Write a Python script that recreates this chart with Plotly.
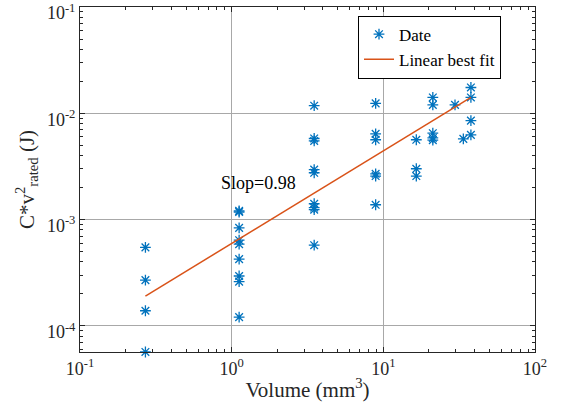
"""Log-log scatter of stored energy versus volume with a linear best fit."""

import plotly.graph_objects as go

# Measured points (Volume in mm^3, C*v^2_rated in J)
volume = [
    0.27, 0.27, 0.27, 0.27,
    1.12, 1.12, 1.12, 1.12, 1.12, 1.12, 1.12, 1.12, 1.12,
    3.5, 3.5, 3.5, 3.5, 3.5, 3.5, 3.5, 3.5, 3.5,
    8.9, 8.9, 8.9, 8.9, 8.9, 8.9, 8.9,
    16.5, 16.5, 16.5,
    21.2, 21.2, 21.2, 21.2, 21.2, 21.2,
    29.7, 33.7,
    37.8, 37.8, 37.8, 37.8,
]
energy = [
    5.48e-4, 2.70e-4, 1.39e-4, 5.69e-5,
    1.21e-3, 1.18e-3, 8.36e-4, 6.41e-4, 5.88e-4, 4.25e-4, 2.95e-4, 2.61e-4, 1.21e-4,
    1.18e-2, 5.8e-3, 5.5e-3, 2.96e-3, 2.76e-3, 1.41e-3, 1.24e-3, 1.30e-3, 5.75e-4,
    2.51e-2, 1.24e-2, 6.41e-3, 5.64e-3, 2.70e-3, 2.57e-3, 1.38e-3,
    5.64e-3, 3.01e-3, 2.57e-3,
    2.51e-2, 1.41e-2, 1.20e-2, 6.50e-3, 5.87e-3, 5.60e-3,
    1.20e-2, 5.75e-3,
    1.75e-2, 1.41e-2, 8.54e-3, 6.27e-3,
]

# Best-fit line end points
fit_x = [0.27, 37.8]
fit_y = [1.91e-4, 1.41e-2]

x_ticks = [0.1, 1, 10, 100]
x_labels = ["10<sup>-1</sup>", "10<sup>0</sup>", "10<sup>1</sup>", "10<sup>2</sup>"]
y_ticks = [1e-4, 1e-3, 1e-2, 1e-1]
y_labels = ["10<sup>-4</sup>", "10<sup>-3</sup>", "10<sup>-2</sup>", "10<sup>-1</sup>"]

x_minor = [k * 10.0 ** e for e in range(-1, 2) for k in range(2, 10)]
y_minor = [k * 10.0 ** e for e in range(-5, -1) for k in range(2, 10)]

FONT = "Liberation Serif, Times New Roman, serif"

fig = go.Figure()

fig.add_trace(go.Scatter(
    x=volume,
    y=energy,
    mode='markers',
    name='Date',
    marker=dict(symbol='asterisk-open', size=9, color='#0072BD',
                line=dict(color='#0072BD', width=1.3)),
    cliponaxis=False,
))

fig.add_trace(go.Scatter(
    x=fit_x,
    y=fit_y,
    mode='lines',
    name='Linear best fit',
    line=dict(color='#D95319', width=1.5),
))

fig.add_annotation(
    text="Slop=0.98",
    x=0.18, y=-2.66, xref='x', yref='y',
    showarrow=False,
    font=dict(family=FONT, size=18, color='black'),
)

axis_common = dict(
    type='log',
    showgrid=True,
    gridcolor='#a8a8a8',
    gridwidth=1,
    showline=True,
    linecolor='#262626',
    linewidth=1,
    mirror='allticks',
    ticks='inside',
    ticklen=5,
    tickcolor='#262626',
    tickfont=dict(family=FONT, size=18, color='#262626'),
    ticklabeloverflow='allow',
    automargin=False,
    zeroline=False,
)

fig.update_layout(
    width=565,
    height=410,
    margin=dict(l=80, r=30, t=7, b=58),
    plot_bgcolor='white',
    paper_bgcolor='white',
    font=dict(family=FONT, size=18, color='#262626'),
    xaxis=dict(
        axis_common,
        range=[-1, 2.0001],
        tickvals=x_ticks,
        ticktext=x_labels,
        minor=dict(tickvals=x_minor, ticks='inside', ticklen=3,
                   tickcolor='#262626', showgrid=False),
        title=dict(text="Volume (mm<sup>3</sup>)", font=dict(family=FONT, size=21), standoff=4),
    ),
    yaxis=dict(
        axis_common,
        range=[-4.245, -0.9999],
        tickvals=y_ticks,
        ticktext=y_labels,
        ticklabelshift=6,
        minor=dict(tickvals=y_minor, ticks='inside', ticklen=3,
                   tickcolor='#262626', showgrid=False),
        title=dict(text="C*v<sup>2</sup><sub>rated</sub> (J)", font=dict(family=FONT, size=21), standoff=6),
    ),
    showlegend=True,
    legend=dict(
        x=0.611,
        y=0.975,
        xanchor='left',
        yanchor='top',
        bgcolor='white',
        bordercolor='black',
        borderwidth=1,
        font=dict(family=FONT, size=17, color='black'),
        tracegroupgap=0,
        itemwidth=30,
    ),
)

fig.write_html(
    "out.html",
    config={'displayModeBar': False},
    post_script="document.body.style.margin='0px';",
)
